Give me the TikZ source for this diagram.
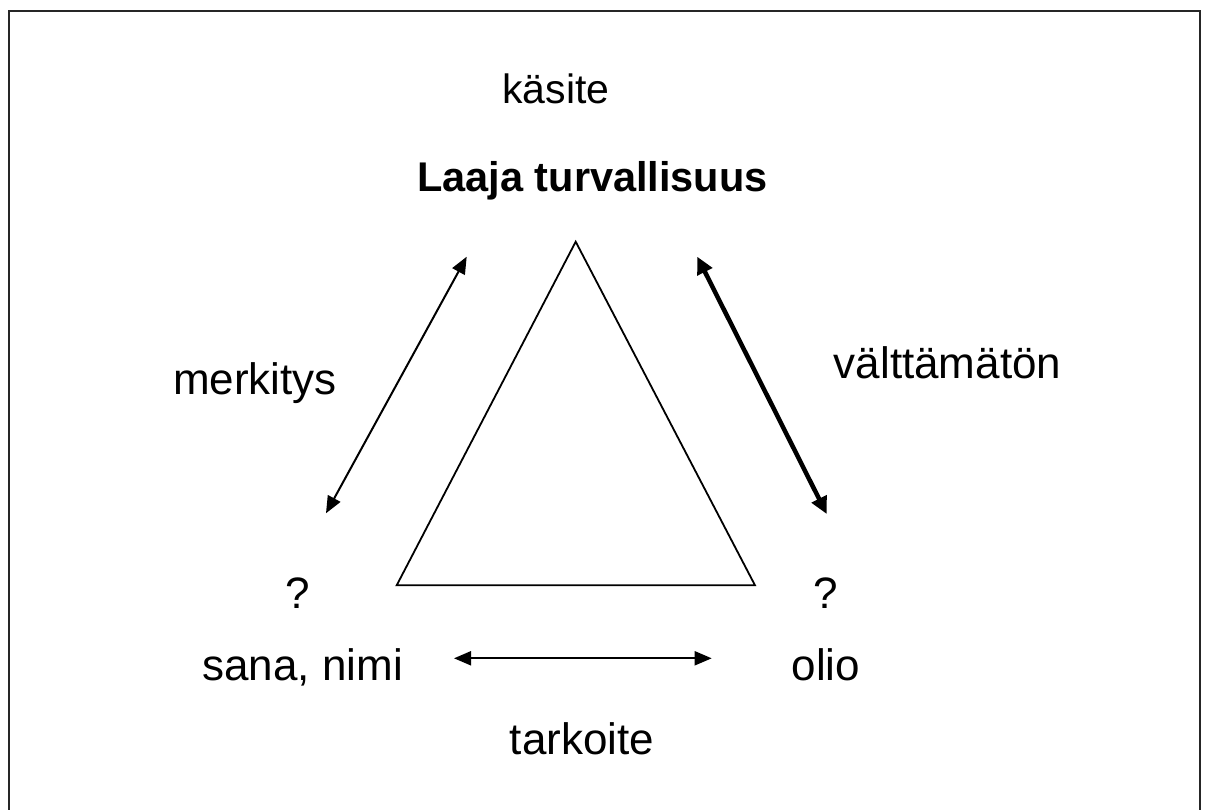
\documentclass[tikz,border=0pt]{standalone}
\usepackage{fontspec}
\setmainfont{Liberation Sans}
\usetikzlibrary{arrows.meta}
\begin{document}
\begin{tikzpicture}[x=1pt,y=-1pt,
  lbl/.style={anchor=base,inner sep=0pt,font=\fontsize{44}{50}\selectfont},
  lblsmall/.style={anchor=base,inner sep=0pt,font=\fontsize{41}{48}\selectfont},
  ttl/.style={anchor=base,inner sep=0pt,font=\fontsize{41.5}{48}\selectfont\bfseries},
  thinarrow/.style={line width=2pt,{Triangle[length=17pt,width=14pt]}-{Triangle[length=17pt,width=14pt]}},
  thickarrow/.style={line width=4.5pt,{Triangle[length=17pt,width=16pt]}-{Triangle[length=17pt,width=16pt]}},
  frameline/.style={line width=2.5pt,draw=black!85}]
\useasboundingbox (0,0) rectangle (1205,810);
% open frame, bottom edge not drawn
\draw[frameline] (9,812) -- (9,11) -- (1200,11) -- (1200,812);

% labels
\node[lblsmall] (kasite) at (556,104) {käsite};
\node[ttl] (laaja) at (592.5,191.5) {Laaja turvallisuus};
\node[lbl] (merk) at (255,394) {merkitys};
\node[lbl] (valt) at (947.5,378) {välttämätön};
\node[lbl] (qleft) at (298,608) {?};
\node[lbl] (qright) at (826,608) {?};
\node[lbl] (sana) at (302.7,680) {sana, nimi};
\node[lbl] (olio) at (826,680) {olio};
\node[lbl] (tark) at (582,754) {tarkoite};

% central triangle
\coordinate (apex) at (575.7,241.7);
\coordinate (bl) at (396.7,585.3);
\coordinate (br) at (755,585.3);
\draw[line width=1.8pt,line join=miter] (apex) -- (br) -- (bl) -- cycle;

% connectors between the corners
\coordinate (lt) at (466.7,256.7);
\coordinate (lb) at (326,513.3);
\coordinate (rt) at (697.3,256.7);
\coordinate (rb) at (826.7,514);
\coordinate (bleft) at (454,658.3);
\coordinate (bright) at (711.7,658.3);
\draw[thinarrow] (lb) -- (lt);
\draw[thickarrow] (rt) -- (rb);
\draw[thinarrow] (bleft) -- (bright);
\end{tikzpicture}
\end{document}
